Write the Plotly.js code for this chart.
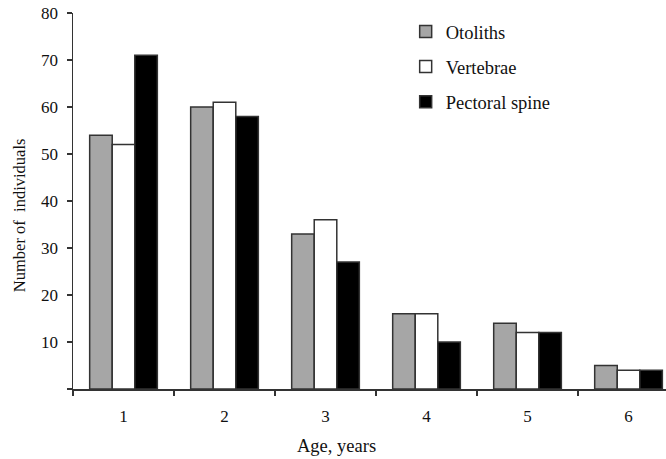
<!DOCTYPE html>
<html>
<head>
<meta charset="utf-8">
<script src="https://cdn.plot.ly/plotly-3.0.1.min.js"></script>
<style>html,body{margin:0;padding:0;background:#fff;}#chart{width:666px;height:459px;}</style>
</head>
<body>
<div id="chart"></div>
<script>
const ages = ['1', '2', '3', '4', '5', '6'];
const otoliths = [54, 60, 33, 16, 14, 5];
const vertebrae = [52, 61, 36, 16, 12, 4];
const pectoralSpine = [71, 58, 27, 10, 12, 4];
const seriesNames = ['Otoliths', 'Vertebrae', 'Pectoral spine'];
const yTickVals = [0, 10, 20, 30, 40, 50, 60, 70, 80];
const yTickText = ['', '10', '20', '30', '40', '50', '60', '70', '80'];

const fills = ['#a6a6a6', '#ffffff', '#000000'];
const series = [otoliths, vertebrae, pectoralSpine];
const font = 'Liberation Serif, Times New Roman, serif';

const traces = series.map((vals, i) => ({
  type: 'bar',
  name: seriesNames[i],
  x: ages,
  y: vals,
  legendgroup: 'g' + i,
  marker: {color: fills[i], line: {color: '#333333', width: 1.5}},
  hoverinfo: 'x+y+name'
}));

const layout = {
  width: 666, height: 459,
  margin: {l: 73, r: 0, t: 13, b: 70},
  paper_bgcolor: '#ffffff', plot_bgcolor: '#ffffff',
  font: {family: font, size: 17, color: '#111111'},
  barmode: 'group', bargap: 0.33, bargroupgap: 0,
  showlegend: true,
  legend: {
    x: 0.561, y: 1.0, xanchor: 'left', yanchor: 'top',
    font: {family: font, size: 18.5, color: '#111111'},
    tracegroupgap: 8, bgcolor: 'rgba(0,0,0,0)'
  },
  xaxis: {
    type: 'category', range: [-0.5, 5.371],
    showline: true, linecolor: '#333333', linewidth: 1.5,
    ticks: 'outside', tickson: 'boundaries', ticklen: 5, tickwidth: 1.5, tickcolor: '#333333',
    ticklabelstandoff: 11,
    showgrid: false, zeroline: false,
    tickfont: {family: font, size: 17, color: '#111111'}
  },
  yaxis: {
    range: [0, 80],
    tickvals: yTickVals, ticktext: yTickText,
    showline: true, linecolor: '#333333', linewidth: 1.5,
    ticks: 'outside', ticklen: 5, tickwidth: 1.5, tickcolor: '#333333',
    ticklabelstandoff: 5,
    showgrid: false, zeroline: false,
    tickfont: {family: font, size: 17, color: '#111111'}
  },
  annotations: [
    {text: 'Age, years', xref: 'paper', yref: 'paper', x: 0.445, y: -0.152,
     xanchor: 'center', yanchor: 'middle', showarrow: false,
     font: {family: font, size: 18.5, color: '#111111'}},
    {text: 'Number of  individuals', xref: 'paper', yref: 'paper', x: -0.089, y: 0.463,
     xanchor: 'center', yanchor: 'middle', showarrow: false, textangle: -90,
     font: {family: font, size: 16.5, color: '#111111'}}
  ]
};

Plotly.newPlot('chart', traces, layout, {displayModeBar: false, staticPlot: true});
</script>
</body>
</html>
